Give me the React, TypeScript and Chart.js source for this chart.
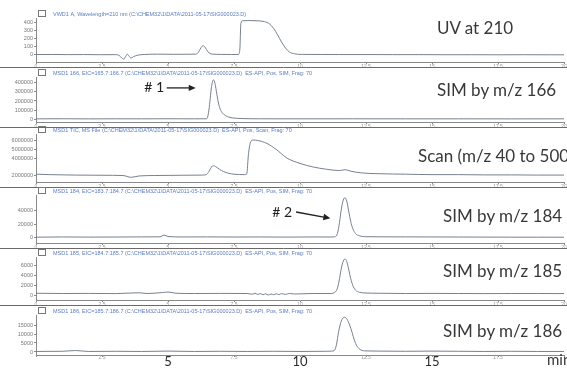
import React, { useEffect, useRef } from 'react';
import { Chart, registerables } from 'chart.js';

Chart.register(...registerables);

// ---------------- data ----------------
const timeTicks = [0, 2.5, 5, 7.5, 10, 12.5, 15, 17.5, 20];
const bigTimeLabels = [5, 10, 15];

const uvTicks = [0, 100, 200, 300, 400];
const sim166Ticks = [0, 100000, 200000, 300000, 400000];
const scanTicks = [2000000, 4000000, 5000000, 6000000];
const sim184Ticks = [0, 20000, 40000];
const sim185Ticks = [0, 2000, 4000, 6000];
const sim186Ticks = [0, 5000, 10000, 15000];

// [time (min), signal]
const uvTrace: [number, number][] = [
  [0, 3], [0.6, 4], [1.2, 2], [1.8, 3], [2.4, 1], [3.0, 2], [3.15, -8], [3.25, -40], [3.32, -55],
  [3.4, -20], [3.46, 8], [3.52, -15], [3.6, -40], [3.7, -22], [3.85, -5], [4.1, 4], [4.6, 8],
  [5.2, 6], [5.8, 7], [6.05, 8], [6.15, 30], [6.24, 85], [6.32, 112], [6.38, 104], [6.46, 65],
  [6.56, 22], [6.7, 8], [7.0, 5], [7.4, 4], [7.66, 4], [7.72, 60], [7.76, 390], [7.82, 426],
  [8.1, 428], [8.4, 425], [8.65, 415], [8.85, 385], [9.0, 330], [9.15, 250], [9.3, 160],
  [9.45, 85], [9.6, 35], [9.8, 12], [10.1, 5], [10.8, 4], [11.5, 3], [12.5, 3], [13.5, 2],
  [14.5, 2], [15.5, 1], [16.5, 1], [17.5, 0], [18.5, 1], [19.5, 0], [20, 0],
];

const sim166Trace: [number, number][] = [
  [0, 2000], [1, 3000], [2, 1500], [3, 2500], [4, 2000], [5, 3000], [6, 2000], [6.45, 3000],
  [6.5, 20000], [6.55, 100000], [6.6, 230000], [6.65, 360000], [6.72, 435000], [6.78, 395000],
  [6.85, 275000], [6.92, 165000], [7.0, 95000], [7.1, 55000], [7.25, 27000], [7.45, 12000],
  [7.8, 5000], [8.5, 2500], [10, 2000], [12, 2500], [14, 2000], [16, 2000], [18, 1500], [20, 2000],
];

const scanTrace: [number, number][] = [
  [0, 2200000], [0.5, 2150000], [1.5, 2100000], [2.5, 2080000], [3.3, 2050000], [3.6, 1850000],
  [3.9, 2000000], [4.5, 2050000], [5.5, 2080000], [6.3, 2100000], [6.45, 2150000], [6.55, 2500000],
  [6.65, 3000000], [6.72, 3150000], [6.8, 3050000], [6.95, 2750000], [7.1, 2500000], [7.3, 2300000],
  [7.5, 2200000], [7.9, 2150000], [7.98, 2200000], [8.05, 4500000], [8.12, 5700000], [8.22, 6000000],
  [8.4, 5950000], [8.75, 5620000], [9.1, 4950000], [9.5, 4000000], [10.0, 3400000], [10.5, 3000000],
  [11.0, 2750000], [11.5, 2600000], [11.7, 2700000], [11.9, 2550000], [12.3, 2350000], [13, 2250000],
  [14, 2200000], [15, 2150000], [16, 2150000], [17, 2120000], [18, 2120000], [19, 2100000], [20, 2100000],
];

const sim184Trace: [number, number][] = [
  [0, 500], [1, 800], [2, 600], [3, 700], [4, 900], [4.7, 1000], [4.85, 3500], [5.0, 1500],
  [5.5, 800], [6.5, 900], [7.5, 700], [8.5, 800], [9.5, 600], [10.5, 800], [11.2, 700], [11.3, 1000],
  [11.4, 4000], [11.48, 18000], [11.55, 38000], [11.62, 53000], [11.7, 59000], [11.77, 54000],
  [11.85, 38000], [11.92, 24000], [12.0, 13000], [12.1, 6000], [12.25, 2500], [12.5, 1200],
  [13, 1000], [14, 900], [15, 800], [16, 700], [17, 600], [18, 500], [19, 500], [20, 400],
];

const sim185Trace: [number, number][] = [
  [0, 350], [1, 300], [2, 320], [3, 280], [3.9, 450], [4.2, 300], [4.8, 500], [5.0, 600], [5.3, 350],
  [6, 300], [7, 320], [8, 300], [8.2, 150], [8.3, 350], [8.4, 100], [8.5, 300], [8.6, 50],
  [8.7, 250], [8.8, 0], [8.9, 200], [9.0, 50], [9.1, 250], [9.2, 80], [9.3, 280], [9.45, 120],
  [9.6, 300], [9.8, 200], [10.5, 300], [11.2, 300], [11.3, 500], [11.4, 1100],
  [11.48, 2800], [11.55, 4900], [11.62, 6500], [11.7, 7200], [11.77, 6700], [11.85, 5000],
  [11.92, 3300], [12.0, 1900], [12.1, 1000], [12.25, 550], [12.5, 400], [13, 350], [14, 300],
  [15, 320], [16, 300], [17, 280], [18, 300], [19, 300], [20, 280],
];

const sim186Trace: [number, number][] = [
  [0, 300], [1, 400], [1.5, 800], [2, 300], [3, 400], [4, 300], [5, 500], [6, 300], [7, 400],
  [8, 300], [9, 400], [10, 300], [11, 400], [11.2, 500], [11.3, 800], [11.38, 4000], [11.46, 11000],
  [11.56, 17000], [11.68, 19300], [11.78, 18200], [11.88, 15000], [11.97, 11000], [12.06, 6500],
  [12.16, 3200], [12.3, 1200], [12.5, 600], [13, 500], [14, 400], [15, 500], [16, 400], [17, 300],
  [18, 400], [19, 300], [20, 300],
];

const panelLabels = [
  'UV at 210',
  'SIM by m/z 166',
  'Scan (m/z 40 to 500)',
  'SIM by m/z 184',
  'SIM by m/z 185',
  'SIM by m/z 186',
];

const headerTexts = [
  'VWD1 A, Wavelength=210 nm (C:\\CHEM32\\1\\DATA\\2011-05-17\\SIG000023.D)',
  'MSD1 166, EIC=165.7:166.7 (C:\\CHEM32\\1\\DATA\\2011-05-17\\SIG000023.D)  ES-API, Pos, SIM, Frag: 70',
  'MSD1 TIC, MS File (C:\\CHEM32\\1\\DATA\\2011-05-17\\SIG000023.D)  ES-API, Pos, Scan, Frag: 70',
  'MSD1 184, EIC=183.7:184.7 (C:\\CHEM32\\1\\DATA\\2011-05-17\\SIG000023.D)  ES-API, Pos, SIM, Frag: 70',
  'MSD1 185, EIC=184.7:185.7 (C:\\CHEM32\\1\\DATA\\2011-05-17\\SIG000023.D)  ES-API, Pos, SIM, Frag: 70',
  'MSD1 186, EIC=185.7:186.7 (C:\\CHEM32\\1\\DATA\\2011-05-17\\SIG000023.D)  ES-API, Pos, SIM, Frag: 70',
];

const peakNames = ['# 1', '# 2'];

// ---------------- layout ----------------
type Annotation = { text: string; at: [number, number]; from: [number, number]; to: [number, number] };
type Panel = {
  trace: [number, number][];
  ticks: number[];
  header: string;
  label: string;
  top: number;
  plotTop: number;
  plotBottom: number;
  min: number;
  max: number;
  labelX: number;
  labelY: number;
  last?: boolean;
  annotation?: Annotation;
};

const panels: Panel[] = [
  { trace: uvTrace, ticks: uvTicks, header: headerTexts[0], label: panelLabels[0], top: 10, plotTop: 18, plotBottom: 62, min: -90, max: 460, labelX: 437, labelY: 28 },
  { trace: sim166Trace, ticks: sim166Ticks, header: headerTexts[1], label: panelLabels[1], top: 69, plotTop: 77, plotBottom: 122, min: -33000, max: 466000, labelX: 437, labelY: 90,
    annotation: { text: peakNames[0], at: [4.1, 345000], from: [4.95, 345000], to: [6.05, 345000] } },
  { trace: scanTrace, ticks: scanTicks, header: headerTexts[2], label: panelLabels[2], top: 125, plotTop: 134, plotBottom: 182, min: 1330000, max: 6670000, labelX: 418, labelY: 156 },
  { trace: sim184Trace, ticks: sim184Ticks, header: headerTexts[3], label: panelLabels[3], top: 187, plotTop: 195, plotBottom: 243, min: -8150, max: 63000, labelX: 443, labelY: 216,
    annotation: { text: peakNames[1], at: [8.95, 37800], from: [9.85, 37800], to: [11.15, 28500] } },
  { trace: sim185Trace, ticks: sim185Ticks, header: headerTexts[4], label: panelLabels[4], top: 249, plotTop: 257, plotBottom: 300, min: -1000, max: 7600, labelX: 443, labelY: 271 },
  { trace: sim186Trace, ticks: sim186Ticks, header: headerTexts[5], label: panelLabels[5], top: 307, plotTop: 315, plotBottom: 355, min: -1667, max: 20556, labelX: 443, labelY: 331, last: true },
];

const W = 567;
const H = 372;
const LINE = '#76808f';
const AXIS = '#8a8a8a';

function PanelChart({ p }: { p: Panel }) {
  const ref = useRef<HTMLCanvasElement | null>(null);
  const bottomPad = p.last ? H - p.plotBottom : 10;
  const height = p.plotBottom - p.top + bottomPad;

  useEffect(() => {
    if (!ref.current) return;
    const deco = {
      id: 'deco',
      afterDraw(chart: any) {
        const { ctx, chartArea, scales } = chart;
        ctx.save();
        // header box + instrument line
        ctx.strokeStyle = '#777';
        ctx.lineWidth = 1;
        ctx.strokeRect(chartArea.left + 2.5, chartArea.top - 7.5, 7, 6);
        ctx.fillStyle = '#5a7cc0';
        ctx.font = '5.5px "Liberation Sans", sans-serif';
        ctx.textBaseline = 'middle';
        ctx.textAlign = 'left';
        ctx.fillText(p.header, chartArea.left + 17, chartArea.top - 4);
        // annotation
        if (p.annotation) {
          const a = p.annotation;
          const tx = scales.x.getPixelForValue(a.at[0]);
          const ty = scales.y.getPixelForValue(a.at[1]);
          ctx.fillStyle = '#222';
          ctx.font = '14px Lato, sans-serif';
          ctx.fillText(a.text, tx, ty);
          const x1 = scales.x.getPixelForValue(a.from[0]);
          const y1 = scales.y.getPixelForValue(a.from[1]);
          const x2 = scales.x.getPixelForValue(a.to[0]);
          const y2 = scales.y.getPixelForValue(a.to[1]);
          const ang = Math.atan2(y2 - y1, x2 - x1);
          ctx.strokeStyle = '#222';
          ctx.lineWidth = 1.3;
          ctx.beginPath();
          ctx.moveTo(x1, y1);
          ctx.lineTo(x2 - 4 * Math.cos(ang), y2 - 4 * Math.sin(ang));
          ctx.stroke();
          ctx.beginPath();
          ctx.moveTo(x2, y2);
          ctx.lineTo(x2 - 7 * Math.cos(ang) + 3.2 * Math.sin(ang), y2 - 7 * Math.sin(ang) - 3.2 * Math.cos(ang));
          ctx.lineTo(x2 - 7 * Math.cos(ang) - 3.2 * Math.sin(ang), y2 - 7 * Math.sin(ang) + 3.2 * Math.cos(ang));
          ctx.closePath();
          ctx.fillStyle = '#222';
          ctx.fill();
        }
        // separator between printed panels
        if (!p.last) {
          ctx.strokeStyle = '#6a6a6a';
          ctx.lineWidth = 1;
          ctx.beginPath();
          ctx.moveTo(0, chartArea.bottom + 5.5);
          ctx.lineTo(chart.width, chartArea.bottom + 5.5);
          ctx.stroke();
        }
        ctx.restore();
      },
    };

    const chart = new Chart(ref.current, {
      type: 'line',
      data: {
        datasets: [
          {
            label: p.label,
            data: p.trace.map(([t, v]) => ({ x: t, y: v })),
            borderColor: LINE,
            borderWidth: 1,
            pointRadius: 0,
            fill: false,
            cubicInterpolationMode: 'monotone',
          },
        ],
      },
      options: {
        animation: false,
        responsive: false,
        devicePixelRatio: 1,
        layout: { padding: { top: p.plotTop - p.top, right: 3, left: 0, bottom: 0 } },
        plugins: { legend: { display: false }, tooltip: { enabled: false } },
        scales: {
          x: {
            type: 'linear',
            min: 0,
            max: 20,
            afterBuildTicks: (axis: any) => {
              axis.ticks = timeTicks.map((v) => ({ value: v }));
            },
            afterFit: (s: any) => {
              s.height = bottomPad;
            },
            border: { color: AXIS, dash: [3, 2] },
            grid: { drawOnChartArea: false, tickLength: 2, color: AXIS },
            ticks: {
              autoSkip: false,
              maxRotation: 0,
              padding: p.last ? -2 : 0,
              color: (ctx: any) => (p.last && bigTimeLabels.includes(ctx.tick?.value) ? '#2a2a2a' : '#999'),
              font: (ctx: any) =>
                p.last && bigTimeLabels.includes(ctx.tick?.value)
                  ? { size: 13, family: 'Lato, sans-serif', lineHeight: 1 }
                  : { size: 5, family: '"Liberation Sans", sans-serif' },
              callback: (v: any) => (p.last && (v === 0 || v === 20) ? '' : String(v)),
            },
          },
          y: {
            type: 'linear',
            min: p.min,
            max: p.max,
            afterBuildTicks: (axis: any) => {
              axis.ticks = p.ticks.map((v) => ({ value: v }));
            },
            afterFit: (s: any) => {
              s.width = 36;
            },
            border: { color: AXIS },
            grid: { drawOnChartArea: false, tickLength: 2, color: AXIS },
            ticks: {
              autoSkip: false,
              padding: 1,
              color: '#777',
              font: { size: 5.5, family: '"Liberation Sans", sans-serif' },
              callback: (v: any) => String(v),
            },
          },
        },
      },
      plugins: [deco],
    } as any);
    return () => chart.destroy();
  }, []);

  return (
    <canvas
      ref={ref}
      width={W}
      height={height}
      style={{ position: 'absolute', left: 0, top: p.top, width: W, height }}
    />
  );
}

export default function App() {
  const labelStyle: React.CSSProperties = {
    position: 'absolute',
    fontFamily: 'Lato, sans-serif',
    fontSize: 17,
    lineHeight: '17px',
    color: '#383838',
    whiteSpace: 'nowrap',
  };
  return (
    <div
      style={{
        position: 'absolute',
        left: 0,
        top: 0,
        width: W,
        height: H,
        background: '#fff',
        overflow: 'hidden',
      }}
    >
      {panels.map((p, i) => (
        <PanelChart key={i} p={p} />
      ))}
      {panels.map((p, i) => (
        <div key={'l' + i} style={{ ...labelStyle, left: p.labelX, top: p.labelY - 9 }}>
          {p.label}
        </div>
      ))}
      <div style={{ ...labelStyle, fontSize: 15, lineHeight: '15px', left: 547, top: 352 }}>min</div>
    </div>
  );
}
